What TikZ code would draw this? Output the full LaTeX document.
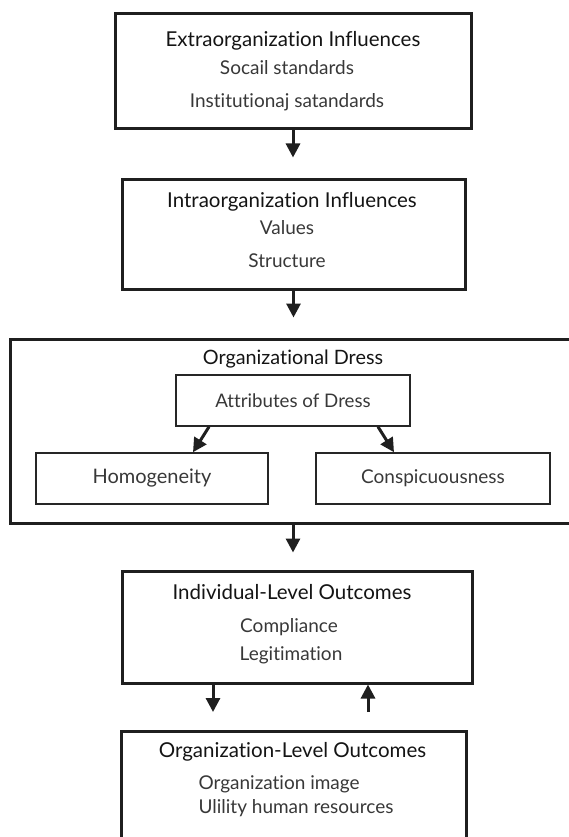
\documentclass[tikz,border=0pt]{standalone}
\usepackage{fontspec}
\setmainfont{Lato}[RawFeature={-liga;-dlig}]
\usetikzlibrary{positioning, arrows.meta}

\begin{document}
\begin{tikzpicture}[x=1pt, y=-1pt,
    every node/.style={font=\fontsize{19}{22}\selectfont, text=black!78},
    bigbox/.style={draw=black!88, line width=3pt, inner sep=0pt},
    smallbox/.style={draw=black!85, line width=1.5pt, inner sep=0pt},
    heading/.style={anchor=base, text=black!92, font=\fontsize{20.5}{24}\selectfont},
    item/.style={anchor=base},
    arr/.style={draw=black!88, line width=3pt, -{Triangle[width=14pt,length=14pt]}}]
    \useasboundingbox (0,0) rectangle (568,837);

    % outer boxes
    \node[bigbox, minimum width=356pt, minimum height=115pt] (extra) at (293,71.5) {};
    \node[bigbox, minimum width=343pt, minimum height=109pt] (intra) at (293.5,234.5) {};
    \node[bigbox, minimum width=566pt, minimum height=184pt] (dress) at (293,431) {};
    \node[bigbox, minimum width=350pt, minimum height=112pt] (indiv) at (297,627) {};
    \node[bigbox, minimum width=345pt, minimum height=114pt] (orglevel) at (293.5,788) {};

    % boxes inside the dress box
    \node[smallbox, minimum width=234pt, minimum height=51pt, font=\fontsize{18.7}{22}\selectfont] (attr) at (293,400.5) {Attributes of Dress};
    \node[smallbox, minimum width=232pt, minimum height=51pt, font=\fontsize{20}{24}\selectfont] (homo) at (152,478.5) {Homogeneity};
    \node[smallbox, minimum width=234pt, minimum height=51pt] (consp) at (433,478.5) {Conspicuousness};

    % texts
    \node[heading] (extra-t) at (293,46.7) {Extraorganization Influences};
    \node[item] (extra-a) at (287,75) {Socail standards};
    \node[item] (extra-b) at (287,108) {Institutionaj satandards};

    \node[heading] (intra-t) at (292,207) {Intraorganization Influences};
    \node[item] (intra-a) at (287,234) {Values};
    \node[item] (intra-b) at (287,267) {Structure};

    \node[heading, font=\fontsize{19.8}{23}\selectfont] (dress-t) at (293,364) {Organizational Dress};

    \node[heading] (indiv-t) at (292,599) {Individual-Level Outcomes};
    \node[item] (indiv-a) at (289,632) {Compliance};
    \node[item] (indiv-b) at (291,660) {Legitimation};

    \node[heading] (orglevel-t) at (292.5,757) {Organization-Level Outcomes};
    \node[item, anchor=base west] (orglevel-a) at (195,789) {Organization image};
    \node[item, anchor=base west] (orglevel-b) at (195,813) {Ulility human resources};

    % arrows
    \draw[arr, shorten >=21pt] (extra.south) -- (extra.south |- intra.north);
    \draw[arr, shorten >=20pt] (intra.south) -- (intra.south |- dress.north);
    \draw[arr] ([xshift=-84pt]attr.south) -- ([xshift=41pt]homo.north);
    \draw[arr] ([xshift=85pt]attr.south) -- ([xshift=-39pt]consp.north);
    \draw[arr, shorten >=17pt] (dress.south) -- (dress.south |- indiv.north);

    \coordinate (down) at (213,712);
    \coordinate (up) at (368,712);
    \draw[arr] (indiv.south -| down) -- (down);
    \draw[arr] (up) -- (indiv.south -| up);
\end{tikzpicture}
\end{document}
